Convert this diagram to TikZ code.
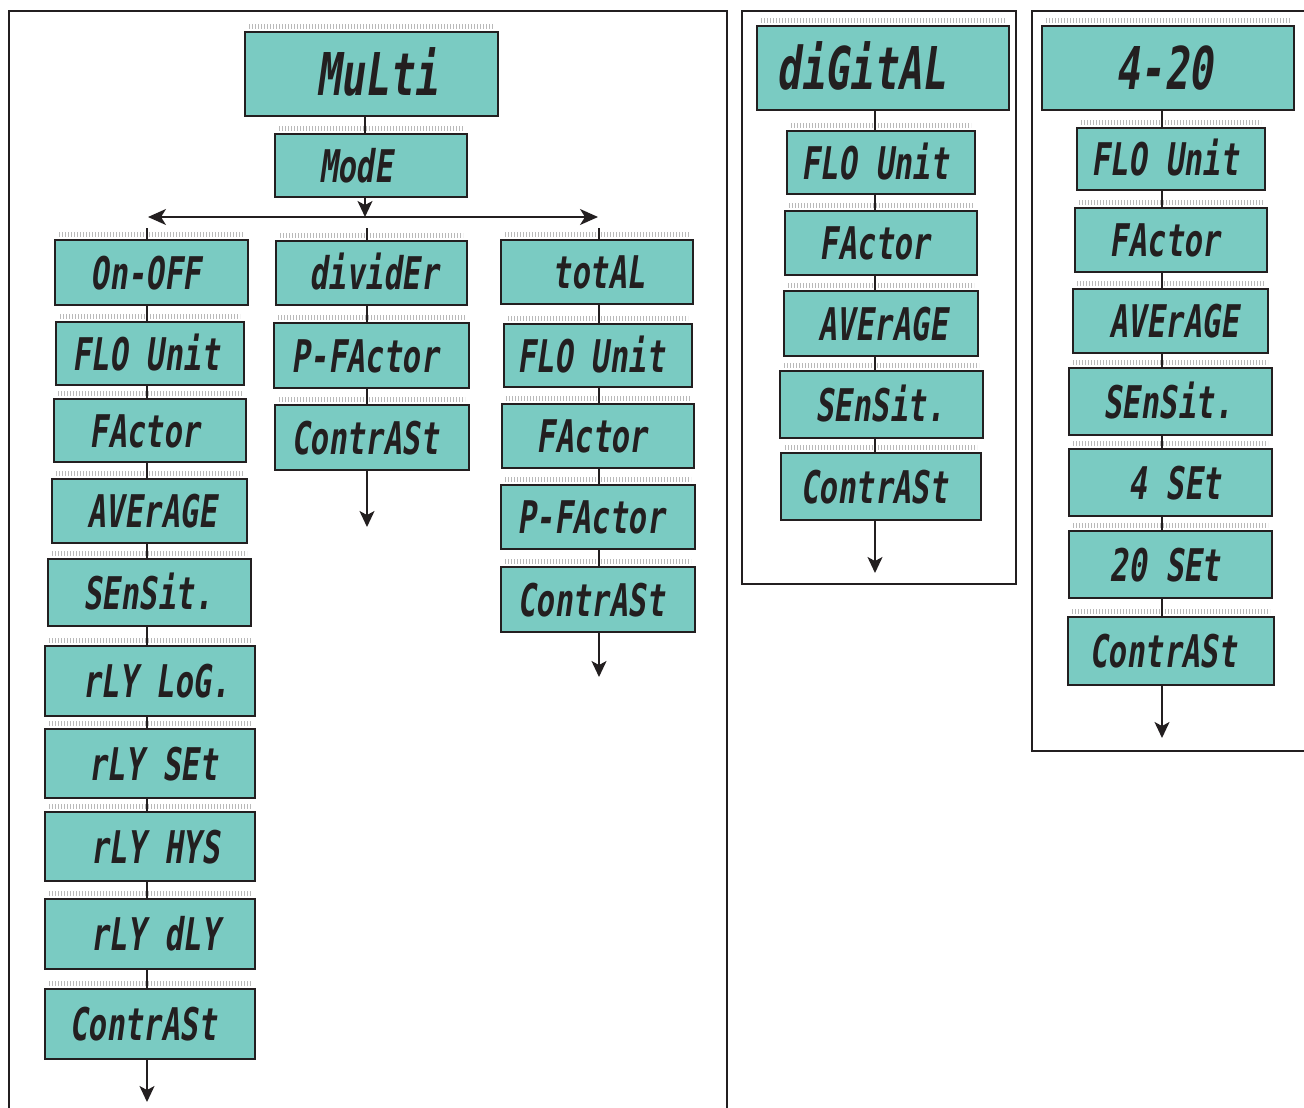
\documentclass[tikz,border=0pt]{standalone}
\usepackage{fontspec}
\newfontfamily\lcdfont{DejaVu Sans Mono}[FakeSlant=0.14,FakeStretch=0.68]
\usetikzlibrary{arrows.meta,calc}
\definecolor{lcdteal}{RGB}{122,203,194}
\definecolor{ink}{RGB}{35,31,32}
\tikzset{
  lcdframe/.style={draw=ink, line width=2pt, fill=lcdteal, inner sep=0pt, rectangle},
  lcdtext/.style={inner sep=0pt, font=\lcdfont\bfseries\fontsize{45}{45}\selectfont, text=ink, text height=33pt, text depth=0pt, anchor=center},
  bigtext/.style={lcdtext, font=\lcdfont\bfseries\fontsize{59}{59}\selectfont, text height=43pt},
  comb/.style={draw=gray!55, line width=4.5pt, dash pattern=on 1.4pt off 1.6pt},
  conn/.style={draw=ink, line width=1.6pt},
  arr/.style={conn, -{Stealth[length=16pt,width=15pt,inset=4pt]}},
  frameline/.style={draw=ink, line width=2pt},
}
\newcommand{\lcdbox}[8]{%
  \node[lcdframe, minimum width={#4-#2}, minimum height={#5-#3}] (#1) at ({(#2+#4)/2},{(#3+#5)/2}) {};
  \draw[comb] ([xshift=5pt,yshift=4.5pt]#1.north west) -- ([xshift=-5pt,yshift=4.5pt]#1.north east);
  \node[#8] (#1t) at (#6,{(#3+#5)/2}) {#7};
}
\begin{document}
\begin{tikzpicture}[x=1pt,y=-1pt]
\useasboundingbox (0,0) rectangle (1304,1108);
\clip (0,0) rectangle (1304,1108);
% frames
\draw[frameline] (9,1115) -- (9,11) -- (727,11) -- (727,1115);
\draw[frameline] (742,11) rectangle (1016,584);
\draw[frameline] (1312,751) -- (1032,751) -- (1032,11) -- (1312,11);
% top
\lcdbox{mu}{245}{32}{498}{116}{377}{MuLti}{bigtext}
\lcdbox{md}{275}{134}{467}{197}{356}{ModE}{lcdtext}
% column 1
\lcdbox{oo}{55}{240}{248}{305}{146}{On-OFF}{lcdtext}
\lcdbox{fu1}{56}{322}{244}{385}{146}{FLO Unit}{lcdtext}
\lcdbox{fa1}{54}{399}{246}{462}{145}{FActor}{lcdtext}
\lcdbox{av1}{52}{479}{247}{543}{152}{AVErAGE}{lcdtext}
\lcdbox{se1}{48}{559}{251}{626}{148}{SEnSit.}{lcdtext}
\lcdbox{rl1}{45}{646}{255}{716}{156}{rLY LoG.}{lcdtext}
\lcdbox{rs1}{45}{729}{255}{798}{153}{rLY SEt}{lcdtext}
\lcdbox{rh1}{45}{812}{255}{881}{155}{rLY HYS}{lcdtext}
\lcdbox{rd1}{45}{899}{255}{969}{155}{rLY dLY}{lcdtext}
\lcdbox{co1}{45}{989}{255}{1059}{143}{ContrASt}{lcdtext}
% column 2
\lcdbox{dv}{276}{241}{467}{305}{374}{dividEr}{lcdtext}
\lcdbox{pf2}{274}{323}{469}{388}{365}{P-FActor}{lcdtext}
\lcdbox{co2}{275}{405}{469}{470}{365}{ContrASt}{lcdtext}
% column 3
\lcdbox{tt}{501}{240}{693}{304}{599}{totAL}{lcdtext}
\lcdbox{fu3}{504}{324}{692}{387}{591}{FLO Unit}{lcdtext}
\lcdbox{fa3}{502}{404}{694}{468}{592}{FActor}{lcdtext}
\lcdbox{pf3}{501}{485}{695}{549}{591}{P-FActor}{lcdtext}
\lcdbox{co3}{501}{567}{695}{632}{591}{ContrASt}{lcdtext}
% middle panel
\lcdbox{dg}{757}{26}{1009}{110}{861}{diGitAL}{bigtext}
\lcdbox{fu4}{787}{131}{975}{194}{875}{FLO Unit}{lcdtext}
\lcdbox{fa4}{785}{211}{977}{275}{875}{FActor}{lcdtext}
\lcdbox{av4}{784}{291}{978}{356}{883}{AVErAGE}{lcdtext}
\lcdbox{se4}{780}{371}{983}{438}{880}{SEnSit.}{lcdtext}
\lcdbox{co4}{781}{453}{981}{520}{874}{ContrASt}{lcdtext}
% right panel
\lcdbox{fz}{1042}{26}{1294}{110}{1164}{4-20}{bigtext}
\lcdbox{fu5}{1077}{128}{1265}{190}{1165}{FLO Unit}{lcdtext}
\lcdbox{fa5}{1075}{208}{1267}{272}{1165}{FActor}{lcdtext}
\lcdbox{av5}{1073}{289}{1268}{353}{1174}{AVErAGE}{lcdtext}
\lcdbox{se5}{1069}{368}{1272}{435}{1168}{SEnSit.}{lcdtext}
\lcdbox{sf}{1069}{449}{1272}{516}{1175}{4 SEt}{lcdtext}
\lcdbox{st}{1069}{531}{1272}{598}{1165}{20 SEt}{lcdtext}
\lcdbox{co5}{1068}{617}{1274}{685}{1163}{ContrASt}{lcdtext}
% coordinates
\coordinate (mx) at (365,217);
\coordinate (hl) at (148,217);
\coordinate (hr) at (598,217);
\coordinate (c1) at (147,228);
\coordinate (c2) at (367,228);
\coordinate (c3) at (599,228);
\coordinate (c4) at (875,0);
\coordinate (c5) at (1162,0);
\coordinate (e1) at (147,1102);
\coordinate (e2) at (367,527);
\coordinate (e3) at (599,677);
\coordinate (e4) at (875,573);
\coordinate (e5) at (1162,738);
% top connectors
\draw[conn] (mu.south -| mx) -- (md.north -| mx);
\draw[arr] (md.south -| mx) -- (mx);
\draw[conn, {Stealth[length=18pt,width=16pt,inset=5pt]}-{Stealth[length=18pt,width=16pt,inset=5pt]}] (hl) -- (hr);
\draw[conn] (c1) -- (oo.north -| c1);
\draw[conn] (c2) -- (dv.north -| c2);
\draw[conn] (c3) -- (tt.north -| c3);
% column connectors
\foreach \a/\b in {oo/fu1,fu1/fa1,fa1/av1,av1/se1,se1/rl1,rl1/rs1,rs1/rh1,rh1/rd1,rd1/co1}
  \draw[conn] (\a.south -| c1) -- (\b.north -| c1);
\foreach \a/\b in {dv/pf2,pf2/co2}
  \draw[conn] (\a.south -| c2) -- (\b.north -| c2);
\foreach \a/\b in {tt/fu3,fu3/fa3,fa3/pf3,pf3/co3}
  \draw[conn] (\a.south -| c3) -- (\b.north -| c3);
\foreach \a/\b in {dg/fu4,fu4/fa4,fa4/av4,av4/se4,se4/co4}
  \draw[conn] (\a.south -| c4) -- (\b.north -| c4);
\foreach \a/\b in {fz/fu5,fu5/fa5,fa5/av5,av5/se5,se5/sf,sf/st,st/co5}
  \draw[conn] (\a.south -| c5) -- (\b.north -| c5);
% exit arrows
\draw[arr] (co1.south -| e1) -- (e1);
\draw[arr] (co2.south -| e2) -- (e2);
\draw[arr] (co3.south -| e3) -- (e3);
\draw[arr] (co4.south -| e4) -- (e4);
\draw[arr] (co5.south -| e5) -- (e5);
\end{tikzpicture}
\end{document}
